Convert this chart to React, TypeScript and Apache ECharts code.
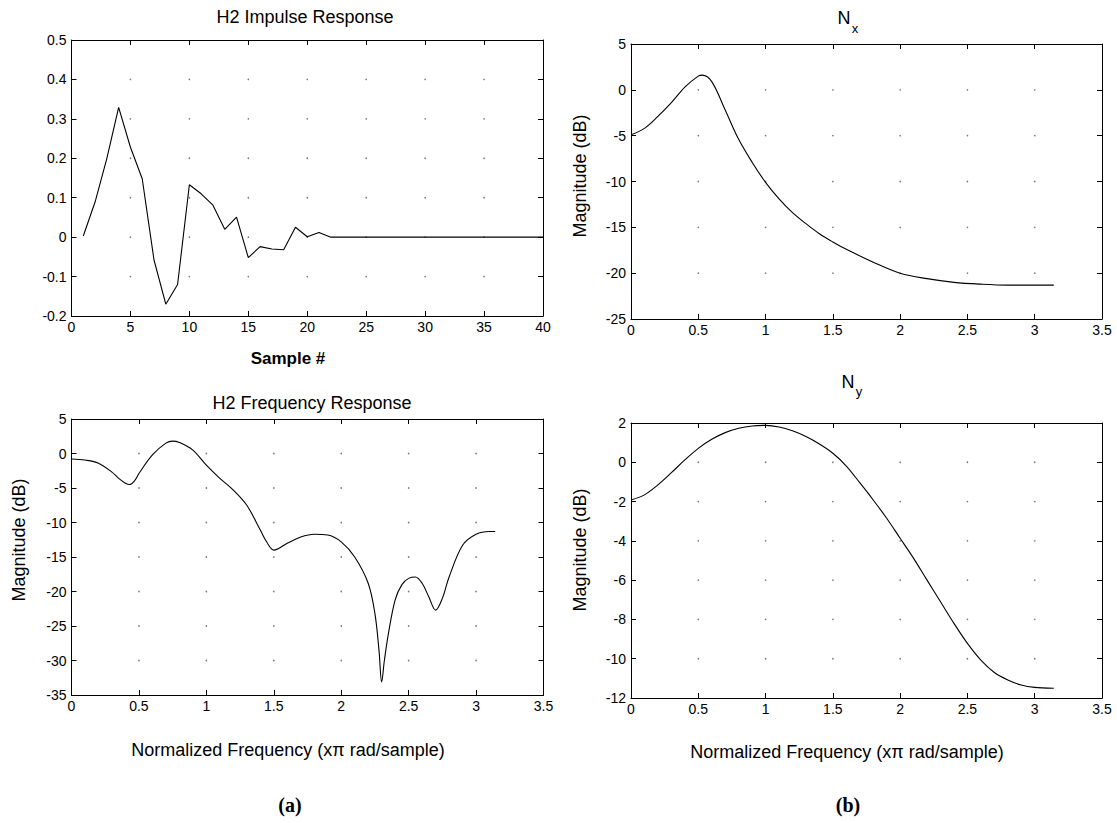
import React, { useEffect, useRef } from "react";
import * as echarts from "echarts";

// ---------- data ----------
const sampleNumbers = [
  1, 2, 3, 4, 5, 6, 7, 8, 9, 10, 11, 12, 13, 14, 15, 16, 17, 18, 19, 20,
  21, 22, 23, 24, 25, 26, 27, 28, 29, 30, 31, 32, 33, 34, 35, 36, 37, 38, 39, 40,
];
const impulseValues = [
  0.003, 0.089, 0.2, 0.329, 0.228, 0.148, -0.058, -0.17, -0.12, 0.133,
  0.11, 0.081, 0.02, 0.051, -0.052, -0.024, -0.03, -0.032, 0.025, 0.001,
  0.012, 0.0, 0.0, 0.0, 0.0, 0.0, 0.0, 0.0, 0.0, 0.0,
  0.0, 0.0, 0.0, 0.0, 0.0, 0.0, 0.0, 0.0, 0.0, 0.0,
];

const h2Freq = [
  0, 0.1, 0.2, 0.3, 0.35, 0.4, 0.43, 0.47, 0.5, 0.6, 0.7, 0.75, 0.8, 0.9, 1.0,
  1.1, 1.2, 1.3, 1.4, 1.45, 1.5, 1.6, 1.7, 1.8, 1.9, 2.0, 2.1, 2.2, 2.25, 2.28,
  2.3, 2.32, 2.35, 2.4, 2.45, 2.5, 2.55, 2.6, 2.65, 2.7, 2.75, 2.8, 2.9, 3.0,
  3.1, 3.1416,
];
const h2Mag = [
  -0.8, -0.95, -1.4, -2.7, -3.6, -4.3, -4.5, -3.9, -2.9, -0.2, 1.5, 1.8, 1.6,
  0.5, -1.7, -3.6, -5.3, -7.5, -11.1, -12.9, -14.0, -13.0, -12.1, -11.7, -11.8,
  -12.8, -15.0, -18.8, -23.2, -28.5, -33.1, -30.0, -26.1, -21.2, -19.0, -18.1,
  -17.9, -18.8, -20.8, -22.7, -21.0, -17.9, -13.3, -11.7, -11.3, -11.3,
];

const nxFreq = [
  0, 0.1, 0.2, 0.3, 0.4, 0.5, 0.53, 0.6, 0.7, 0.8, 0.9, 1.0, 1.1, 1.2, 1.3,
  1.4, 1.5, 1.6, 1.8, 2.0, 2.2, 2.4, 2.6, 2.8, 3.0, 3.1416,
];
const nxMag = [
  -4.9, -4.2, -2.9, -1.4, 0.3, 1.5, 1.6, 0.9, -2.2, -5.4, -7.9, -10.1, -11.9,
  -13.4, -14.6, -15.7, -16.6, -17.4, -18.8, -20.0, -20.6, -21.0, -21.2, -21.3,
  -21.3, -21.3,
];

const nyFreq = [
  0, 0.1, 0.2, 0.3, 0.4, 0.5, 0.6, 0.7, 0.8, 0.9, 1.0, 1.1, 1.2, 1.3, 1.4,
  1.5, 1.6, 1.7, 1.8, 1.9, 2.0, 2.1, 2.2, 2.3, 2.4, 2.5, 2.6, 2.7, 2.8, 2.9,
  3.0, 3.1416,
];
const nyMag = [
  -1.92, -1.66, -1.15, -0.53, 0.12, 0.71, 1.17, 1.51, 1.73, 1.85, 1.88, 1.8,
  1.6, 1.31, 0.93, 0.46, -0.19, -1.04, -1.92, -2.85, -3.87, -4.89, -6.0, -7.1,
  -8.2, -9.22, -10.07, -10.7, -11.08, -11.34, -11.46, -11.5,
];

// tick definitions
const sampleTicks = [0, 5, 10, 15, 20, 25, 30, 35, 40];
const impulseTicks = [-0.2, -0.1, 0, 0.1, 0.2, 0.3, 0.4, 0.5];
const freqTicks = [0, 0.5, 1, 1.5, 2, 2.5, 3, 3.5];
const h2Ticks = [-35, -30, -25, -20, -15, -10, -5, 0, 5];
const nxTicks = [-25, -20, -15, -10, -5, 0, 5];
const nyTicks = [-12, -10, -8, -6, -4, -2, 0, 2];

const FONT = "'Liberation Sans', Arial, Helvetica, sans-serif";

function gridDots(xs: number[], ys: number[]) {
  const out: number[][] = [];
  xs.slice(1, -1).forEach((x) => ys.slice(1, -1).forEach((y) => out.push([x, y])));
  return out;
}

function axisPair(g: number, ticks: number[], isX: boolean) {
  const min = ticks[0];
  const max = ticks[ticks.length - 1];
  const interval = ticks[1] - ticks[0];
  const base = {
    type: "value",
    gridIndex: g,
    min,
    max,
    interval,
    axisLine: { show: true, onZero: false, lineStyle: { color: "#000", width: 1 } },
    axisTick: { show: true, inside: true, length: 5, lineStyle: { color: "#000" } },
    splitLine: { show: false },
  };
  return [
    {
      ...base,
      position: isX ? "bottom" : "left",
      axisLabel: {
        show: true,
        color: "#000",
        fontSize: 14,
        fontFamily: FONT,
        margin: isX ? 4 : 5,
        formatter: (v: number) => String(Math.round(v * 1000) / 1000),
      },
    },
    { ...base, position: isX ? "top" : "right", axisLabel: { show: false } },
  ];
}

const grids = [
  { left: 71.5, top: 40, width: 471.5, height: 276 },
  { left: 71.5, top: 419, width: 472, height: 276 },
  { left: 631, top: 44, width: 471, height: 275 },
  { left: 631, top: 423, width: 471, height: 275 },
];

export default function App() {
  const ref = useRef<HTMLDivElement>(null);
  useEffect(() => {
    document.body.style.margin = "0";
    if (!ref.current) return;
    const chart = echarts.init(ref.current, null, { renderer: "svg" });

    const xTicksList = [sampleTicks, freqTicks, freqTicks, freqTicks];
    const yTicksList = [impulseTicks, h2Ticks, nxTicks, nyTicks];
    const xAxis: any[] = [];
    const yAxis: any[] = [];
    for (let g = 0; g < 4; g++) {
      xAxis.push(...axisPair(g, xTicksList[g], true));
      yAxis.push(...axisPair(g, yTicksList[g], false));
    }

    const lineData = [
      sampleNumbers.map((n, i) => [n, impulseValues[i]]),
      h2Freq.map((f, i) => [f, h2Mag[i]]),
      nxFreq.map((f, i) => [f, nxMag[i]]),
      nyFreq.map((f, i) => [f, nyMag[i]]),
    ];

    const series: any[] = [];
    for (let g = 0; g < 4; g++) {
      series.push({
        type: "scatter",
        xAxisIndex: 2 * g,
        yAxisIndex: 2 * g,
        data: gridDots(xTicksList[g], yTicksList[g]),
        symbol: "circle",
        symbolSize: 1.6,
        itemStyle: { color: "#555" },
        silent: true,
      });
      series.push({
        type: "line",
        xAxisIndex: 2 * g,
        yAxisIndex: 2 * g,
        data: lineData[g],
        showSymbol: false,
        smooth: g === 0 ? false : 0.35,
        lineStyle: { color: "#000", width: 1.1 },
      });
    }

    const txt = (text: string, x: number, y: number, extra: any = {}, rotation = 0) => ({
      type: "text",
      x,
      y,
      rotation,
      silent: true,
      style: {
        text,
        fill: "#000",
        fontSize: 18,
        fontFamily: FONT,
        align: "center",
        verticalAlign: "middle",
        ...extra,
      },
    });

    chart.setOption({
      animation: false,
      backgroundColor: "#fff",
      grid: grids.map((g) => ({ ...g, containLabel: false })),
      xAxis,
      yAxis,
      series,
      graphic: [
        txt("H2 Impulse Response", 305, 17),
        txt("H2 Frequency Response", 312, 403),
        txt("N", 844, 18),
        txt("x", 855, 28, { fontSize: 13 }),
        txt("N", 848, 382),
        txt("y", 859, 391, { fontSize: 13 }),
        txt("Sample #", 288, 358, { fontWeight: "bold", fontSize: 17 }),
        txt("Normalized Frequency (x\u03c0 rad/sample)", 288, 750),
        txt("Normalized Frequency (x\u03c0 rad/sample)", 847, 752),
        txt("Magnitude (dB)", 19, 540, {}, Math.PI / 2),
        txt("Magnitude (dB)", 580, 176, {}, Math.PI / 2),
        txt("Magnitude (dB)", 580, 550, {}, Math.PI / 2),
        txt("(a)", 290, 805, { fontFamily: "'Liberation Serif', 'Times New Roman', serif", fontWeight: "bold", fontSize: 20 }),
        txt("(b)", 848, 805, { fontFamily: "'Liberation Serif', 'Times New Roman', serif", fontWeight: "bold", fontSize: 20 }),
      ],
    });
    return () => chart.dispose();
  }, []);
  return <div ref={ref} style={{ width: 1117, height: 823 }} />;
}
